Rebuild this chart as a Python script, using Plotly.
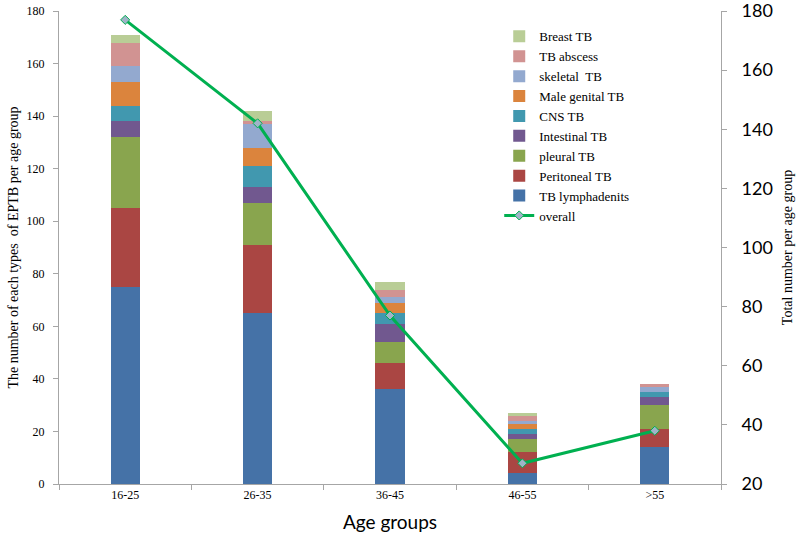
import plotly.graph_objects as go

age_groups = ["16-25", "26-35", "36-45", "46-55", ">55"]

# segment counts per age group
tb_lymphadenits = [75, 65, 36, 4, 14]
peritoneal_tb = [30, 26, 10, 8, 7]
pleural_tb = [27, 16, 8, 5, 9]
intestinal_tb = [6, 6, 7, 2, 3]
cns_tb = [6, 8, 4, 2, 2]
male_genital_tb = [9, 7, 4, 2, 0]
skeletal_tb = [6, 9, 2, 1, 2]
tb_abscess = [9, 1, 3, 2, 1]
breast_tb = [3, 4, 3, 1, 0]

overall = [177, 142, 77, 27, 38]

series = [
    ("TB lymphadenits", tb_lymphadenits, "#4572A7"),
    ("Peritoneal TB", peritoneal_tb, "#AA4643"),
    ("pleural TB", pleural_tb, "#89A54E"),
    ("Intestinal TB", intestinal_tb, "#71588F"),
    ("CNS TB", cns_tb, "#4198AF"),
    ("Male genital TB", male_genital_tb, "#DB843D"),
    ("skeletal  TB", skeletal_tb, "#93A9CF"),
    ("TB abscess", tb_abscess, "#D19392"),
    ("Breast TB", breast_tb, "#B9CD96"),
]

serif = "Liberation Serif"
sans = "Lato"

fig = go.Figure()

# line first so that the reversed legend puts it last
fig.add_trace(go.Scatter(
    x=age_groups, y=overall, name="overall", yaxis="y2",
    mode="lines+markers",
    line=dict(color="#00B050", width=3),
    marker=dict(symbol="diamond", size=7, color="#9FB4C8",
                line=dict(color="#00B050", width=1)),
))

for name, vals, col in series:
    fig.add_trace(go.Bar(x=age_groups, y=vals, name=name,
                         marker=dict(color=col, line=dict(width=0))))

fig.update_layout(
    width=800, height=539,
    barmode="stack", bargap=0.78,
    plot_bgcolor="white", paper_bgcolor="white",
    margin=dict(l=59, r=79, t=11, b=55),
    font=dict(family=serif, size=13, color="black"),
    xaxis=dict(
        automargin=False,
        showline=True, linecolor="#A6A6A6", linewidth=1,
        ticks="outside", tickson="boundaries", ticklen=5, tickcolor="#A6A6A6",
        tickfont=dict(family=serif, size=12),
        title=dict(text="Age groups", font=dict(family=sans, size=19), standoff=14),
    ),
    yaxis=dict(
        automargin=False, ticklabeloverflow="allow",
        range=[0, 180], dtick=20, showgrid=False, zeroline=False,
        showline=True, linecolor="#A6A6A6", linewidth=1,
        ticks="outside", ticklen=5, tickcolor="#A6A6A6",
        tickfont=dict(family=serif, size=12), ticklabelstandoff=6,
        title=dict(text="The number of each types  of EPTB per age group",
                   font=dict(family=serif, size=14), standoff=4),
    ),
    yaxis2=dict(
        automargin=False, ticklabeloverflow="allow",
        range=[20, 180], dtick=20, overlaying="y", side="right",
        showgrid=False, zeroline=False,
        showline=True, linecolor="#A6A6A6", linewidth=1,
        ticks="outside", ticklen=5, tickcolor="#A6A6A6",
        tickfont=dict(family=sans, size=18), ticklabelstandoff=11,
        title=dict(text="Total number per age group",
                   font=dict(family=serif, size=14), standoff=10),
    ),
    legend=dict(
        x=0.665, y=0.978, xanchor="left", yanchor="top",
        traceorder="reversed", bgcolor="rgba(0,0,0,0)",
        font=dict(family=serif, size=13),
    ),
)

# page body has a default 8px margin; drop it so the figure sits at 0,0
fig.write_html("out.html", config={"displayModeBar": False},
               post_script="document.body.style.margin='0px';")
